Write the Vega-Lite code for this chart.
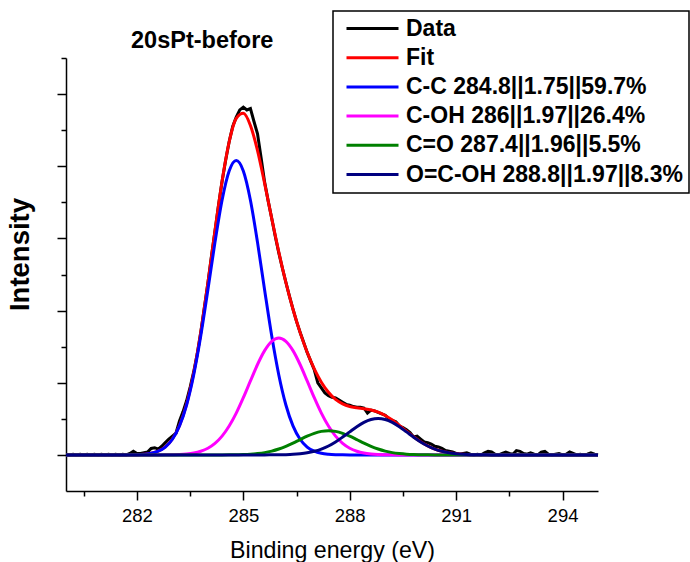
{
  "$schema": "https://vega.github.io/schema/vega-lite/v6.json",
  "width": 532,
  "height": 433,
  "autosize": {"type": "none"},
  "padding": {"left": 66, "top": 58, "right": 92, "bottom": 71},
  "background": "white",
  "config": {
    "view": {"stroke": null},
    "font": "Liberation Sans",
    "axis": {"grid": false, "domainColor": "black", "tickColor": "black", "domainWidth": 1.5, "tickWidth": 1.5, "labelColor": "black", "titleColor": "black", "labelFont": "Liberation Sans", "titleFont": "Liberation Sans"},
    "legend": {"strokeColor": "black", "strokeWidth": 1.5, "title": null}
  },
  "title": {"text": "20sPt-before", "font": "Liberation Sans", "fontSize": 23.5, "fontWeight": "bold", "color": "black", "anchor": "start", "frame": "group", "dx": 65, "dy": 50.5, "offset": 8},
  "datasets": {
    "raw": [
      {"x":280.0,"y":0.01},{"x":280.1,"y":0.00},{"x":280.2,"y":0.01},{"x":280.3,"y":0.00},{"x":280.4,"y":0.01},{"x":280.5,"y":0.00},{"x":280.6,"y":0.01},{"x":280.7,"y":0.00},{"x":280.8,"y":0.01},{"x":280.9,"y":0.00},
      {"x":281.0,"y":0.01},{"x":281.1,"y":0.00},{"x":281.2,"y":0.01},{"x":281.3,"y":0.00},{"x":281.4,"y":0.01},{"x":281.5,"y":0.00},{"x":281.6,"y":0.01},{"x":281.7,"y":0.00},{"x":281.8,"y":0.02},{"x":281.9,"y":0.05},
      {"x":282.0,"y":0.02},{"x":282.1,"y":0.02},{"x":282.2,"y":0.03},{"x":282.3,"y":0.04},{"x":282.4,"y":0.09},{"x":282.5,"y":0.10},{"x":282.6,"y":0.08},{"x":282.7,"y":0.12},{"x":282.8,"y":0.17},{"x":282.9,"y":0.22},
      {"x":283.0,"y":0.26},{"x":283.1,"y":0.30},{"x":283.2,"y":0.47},{"x":283.3,"y":0.60},{"x":283.4,"y":0.75},{"x":283.5,"y":0.94},{"x":283.6,"y":1.15},{"x":283.7,"y":1.40},{"x":283.8,"y":1.70},{"x":283.9,"y":2.04},
      {"x":284.0,"y":2.38},{"x":284.1,"y":2.75},{"x":284.2,"y":3.10},{"x":284.3,"y":3.46},{"x":284.4,"y":3.79},{"x":284.5,"y":4.08},{"x":284.6,"y":4.34},{"x":284.7,"y":4.55},{"x":284.8,"y":4.68},{"x":284.9,"y":4.78},
      {"x":285.0,"y":4.82},{"x":285.1,"y":4.78},{"x":285.2,"y":4.80},{"x":285.3,"y":4.62},{"x":285.4,"y":4.45},{"x":285.5,"y":4.12},{"x":285.6,"y":3.78},{"x":285.7,"y":3.52},{"x":285.8,"y":3.28},{"x":285.9,"y":3.03},
      {"x":286.0,"y":2.80},{"x":286.1,"y":2.59},{"x":286.2,"y":2.39},{"x":286.3,"y":2.20},{"x":286.4,"y":2.02},{"x":286.5,"y":1.85},{"x":286.6,"y":1.70},{"x":286.7,"y":1.56},{"x":286.8,"y":1.42},{"x":286.9,"y":1.30},
      {"x":287.0,"y":1.18},{"x":287.1,"y":1.00},{"x":287.2,"y":0.93},{"x":287.3,"y":0.86},{"x":287.4,"y":0.82},{"x":287.5,"y":0.80},{"x":287.6,"y":0.79},{"x":287.7,"y":0.76},{"x":287.8,"y":0.73},{"x":287.9,"y":0.70},
      {"x":288.0,"y":0.69},{"x":288.1,"y":0.67},{"x":288.2,"y":0.66},{"x":288.3,"y":0.66},{"x":288.4,"y":0.65},{"x":288.5,"y":0.58},{"x":288.6,"y":0.62},{"x":288.7,"y":0.61},{"x":288.8,"y":0.59},{"x":288.9,"y":0.57},
      {"x":289.0,"y":0.55},{"x":289.1,"y":0.50},{"x":289.2,"y":0.48},{"x":289.3,"y":0.46},{"x":289.4,"y":0.40},{"x":289.5,"y":0.38},{"x":289.6,"y":0.35},{"x":289.7,"y":0.31},{"x":289.8,"y":0.25},{"x":289.9,"y":0.26},
      {"x":290.0,"y":0.22},{"x":290.1,"y":0.18},{"x":290.2,"y":0.17},{"x":290.3,"y":0.15},{"x":290.4,"y":0.12},{"x":290.5,"y":0.11},{"x":290.6,"y":0.09},{"x":290.7,"y":0.06},{"x":290.8,"y":0.05},{"x":290.9,"y":0.04},
      {"x":291.0,"y":0.02},{"x":291.1,"y":0.01},{"x":291.2,"y":0.02},{"x":291.3,"y":0.03},{"x":291.4,"y":0.01},{"x":291.5,"y":0.00},{"x":291.6,"y":0.01},{"x":291.7,"y":0.00},{"x":291.8,"y":0.03},{"x":291.9,"y":0.05},
      {"x":292.0,"y":0.04},{"x":292.1,"y":0.01},{"x":292.2,"y":0.00},{"x":292.3,"y":0.02},{"x":292.4,"y":0.04},{"x":292.5,"y":0.02},{"x":292.6,"y":0.01},{"x":292.7,"y":0.06},{"x":292.8,"y":0.05},{"x":292.9,"y":0.02},
      {"x":293.0,"y":0.01},{"x":293.1,"y":0.03},{"x":293.2,"y":0.01},{"x":293.3,"y":0.00},{"x":293.4,"y":0.04},{"x":293.5,"y":0.05},{"x":293.6,"y":0.01},{"x":293.7,"y":0.00},{"x":293.8,"y":0.01},{"x":293.9,"y":0.02},
      {"x":294.0,"y":0.00},{"x":294.1,"y":0.01},{"x":294.2,"y":0.04},{"x":294.3,"y":0.02},{"x":294.4,"y":0.00},{"x":294.5,"y":0.01},{"x":294.6,"y":0.00},{"x":294.7,"y":0.01},{"x":294.8,"y":0.03},{"x":294.9,"y":0.01},
      {"x":295.0,"y":0.00}
    ],
    "comp": [
      {"x":280.0,"Fit":0,"cc":0,"coh":0,"co":0,"ocoh":0},
      {"x":281.6,"Fit":0,"cc":0,"coh":0,"co":0,"ocoh":0},
      {"x":281.8,"Fit":0.001,"cc":0.001,"coh":0,"co":0,"ocoh":0},
      {"x":282.0,"Fit":0.003,"cc":0.003,"coh":0,"co":0,"ocoh":0},
      {"x":282.2,"Fit":0.009,"cc":0.009,"coh":0,"co":0,"ocoh":0},
      {"x":282.4,"Fit":0.022,"cc":0.022,"coh":0,"co":0,"ocoh":0},
      {"x":282.6,"Fit":0.051,"cc":0.051,"coh":0,"co":0,"ocoh":0},
      {"x":282.8,"Fit":0.110,"cc":0.109,"coh":0.001,"co":0,"ocoh":0},
      {"x":283.0,"Fit":0.220,"cc":0.217,"coh":0.003,"co":0,"ocoh":0},
      {"x":283.2,"Fit":0.408,"cc":0.402,"coh":0.006,"co":0,"ocoh":0},
      {"x":283.4,"Fit":0.705,"cc":0.692,"coh":0.013,"co":0,"ocoh":0},
      {"x":283.6,"Fit":1.134,"cc":1.108,"coh":0.026,"co":0,"ocoh":0},
      {"x":283.8,"Fit":1.701,"cc":1.650,"coh":0.051,"co":0,"ocoh":0},
      {"x":284.0,"Fit":2.379,"cc":2.286,"coh":0.093,"co":0,"ocoh":0},
      {"x":284.2,"Fit":3.105,"cc":2.945,"coh":0.160,"co":0,"ocoh":0},
      {"x":284.4,"Fit":3.790,"cc":3.530,"coh":0.260,"co":0,"ocoh":0},
      {"x":284.6,"Fit":4.336,"cc":3.935,"coh":0.400,"co":0.001,"ocoh":0},
      {"x":284.8,"Fit":4.662,"cc":4.080,"coh":0.579,"co":0.003,"ocoh":0},
      {"x":285.0,"Fit":4.733,"cc":3.935,"coh":0.793,"co":0.005,"ocoh":0},
      {"x":285.2,"Fit":4.565,"cc":3.530,"coh":1.025,"co":0.010,"ocoh":0},
      {"x":285.4,"Fit":4.217,"cc":2.945,"coh":1.253,"co":0.019,"ocoh":0},
      {"x":285.6,"Fit":3.763,"cc":2.286,"coh":1.445,"co":0.032,"ocoh":0},
      {"x":285.8,"Fit":3.278,"cc":1.650,"coh":1.574,"co":0.053,"ocoh":0.001},
      {"x":286.0,"Fit":2.812,"cc":1.108,"coh":1.620,"co":0.082,"ocoh":0.002},
      {"x":286.2,"Fit":2.389,"cc":0.692,"coh":1.574,"co":0.119,"ocoh":0.004},
      {"x":286.4,"Fit":2.018,"cc":0.402,"coh":1.445,"co":0.163,"ocoh":0.008},
      {"x":286.6,"Fit":1.698,"cc":0.217,"coh":1.253,"co":0.212,"ocoh":0.016},
      {"x":286.8,"Fit":1.422,"cc":0.109,"coh":1.025,"co":0.259,"ocoh":0.029},
      {"x":287.0,"Fit":1.193,"cc":0.051,"coh":0.793,"co":0.299,"ocoh":0.050},
      {"x":287.2,"Fit":1.008,"cc":0.022,"coh":0.579,"co":0.326,"ocoh":0.081},
      {"x":287.4,"Fit":0.869,"cc":0.009,"coh":0.400,"co":0.336,"ocoh":0.124},
      {"x":287.6,"Fit":0.769,"cc":0.003,"coh":0.260,"co":0.326,"ocoh":0.180},
      {"x":287.8,"Fit":0.707,"cc":0.001,"coh":0.160,"co":0.299,"ocoh":0.247},
      {"x":288.0,"Fit":0.671,"cc":0,"coh":0.093,"co":0.259,"ocoh":0.319},
      {"x":288.2,"Fit":0.653,"cc":0,"coh":0.051,"co":0.212,"ocoh":0.390},
      {"x":288.4,"Fit":0.639,"cc":0,"coh":0.026,"co":0.163,"ocoh":0.450},
      {"x":288.6,"Fit":0.622,"cc":0,"coh":0.013,"co":0.119,"ocoh":0.490},
      {"x":288.8,"Fit":0.592,"cc":0,"coh":0.006,"co":0.082,"ocoh":0.504},
      {"x":289.0,"Fit":0.546,"cc":0,"coh":0.003,"co":0.053,"ocoh":0.490},
      {"x":289.2,"Fit":0.483,"cc":0,"coh":0.001,"co":0.032,"ocoh":0.450},
      {"x":289.4,"Fit":0.409,"cc":0,"coh":0,"co":0.019,"ocoh":0.390},
      {"x":289.6,"Fit":0.329,"cc":0,"coh":0,"co":0.010,"ocoh":0.319},
      {"x":289.8,"Fit":0.252,"cc":0,"coh":0,"co":0.005,"ocoh":0.247},
      {"x":290.0,"Fit":0.183,"cc":0,"coh":0,"co":0.003,"ocoh":0.180},
      {"x":290.2,"Fit":0.125,"cc":0,"coh":0,"co":0.001,"ocoh":0.124},
      {"x":290.4,"Fit":0.081,"cc":0,"coh":0,"co":0,"ocoh":0.081},
      {"x":290.6,"Fit":0.050,"cc":0,"coh":0,"co":0,"ocoh":0.050},
      {"x":290.8,"Fit":0.029,"cc":0,"coh":0,"co":0,"ocoh":0.029},
      {"x":291.0,"Fit":0.016,"cc":0,"coh":0,"co":0,"ocoh":0.016},
      {"x":291.2,"Fit":0.008,"cc":0,"coh":0,"co":0,"ocoh":0.008},
      {"x":291.4,"Fit":0.004,"cc":0,"coh":0,"co":0,"ocoh":0.004},
      {"x":291.6,"Fit":0.002,"cc":0,"coh":0,"co":0,"ocoh":0.002},
      {"x":291.8,"Fit":0.001,"cc":0,"coh":0,"co":0,"ocoh":0.001},
      {"x":292.0,"Fit":0,"cc":0,"coh":0,"co":0,"ocoh":0},
      {"x":295.0,"Fit":0,"cc":0,"coh":0,"co":0,"ocoh":0}
    ]
  },
  "resolve": {"scale": {"x": "shared", "y": "shared", "color": "shared"}, "axis": {"x": "independent", "y": "independent"}},
  "layer": [
    {
      "data": {"name": "raw"},
      "mark": {"type": "line", "strokeWidth": 3, "interpolate": "linear"},
      "encoding": {
        "x": {"field": "x", "type": "quantitative", "scale": {"domain": [280, 295], "nice": false, "zero": false},
          "axis": {"orient": "bottom", "values": [282, 285, 288, 291, 294], "tickSize": 9, "labelFontSize": 18.5, "labelPadding": 6, "title": "Binding energy (eV)", "titleFontSize": 23.2, "titleFontWeight": "normal", "titlePadding": 15}},
        "y": {"field": "y", "type": "quantitative", "scale": {"domain": [-0.5, 5.5], "nice": false, "zero": false},
          "axis": {"orient": "left", "values": [0, 1, 2, 3, 4, 5], "tickSize": 9, "labels": false, "title": "Intensity", "titleFontSize": 27.5, "titleFontWeight": "bold", "titleX": -38, "titleY": 196, "titleAlign": "center", "titleBaseline": "alphabetic", "titleAngle": -90}},
        "color": {"datum": "Data", "type": "nominal", "title": null,
          "scale": {"domain": ["Data", "Fit", "cc", "coh", "co", "ocoh"], "range": ["#000000", "#ff0000", "#0000ff", "#ff00ff", "#008000", "#000080"]},
          "legend": {"orient": "none", "legendX": 267, "legendY": -47, "title": null, "symbolType": "M-2.6,0H2.6", "symbolSize": 400, "symbolStrokeWidth": 3, "symbolOffset": 22, "labelOffset": 22, "labelFontSize": 23, "labelFontWeight": "bold", "labelFont": "Liberation Sans", "labelColor": "black", "labelLimit": 500, "padding": 6, "rowPadding": 5.2, "strokeColor": "black",
            "labelExpr": "datum.label == 'cc' ? 'C-C 284.8||1.75||59.7%' : datum.label == 'coh' ? 'C-OH 286||1.97||26.4%' : datum.label == 'co' ? 'C=O 287.4||1.96||5.5%' : datum.label == 'ocoh' ? 'O=C-OH 288.8||1.97||8.3%' : datum.label"}}
      }
    },
    {
      "data": {"name": "comp"},
      "transform": [{"fold": ["Fit", "cc", "coh", "co", "ocoh"], "as": ["series", "val"]}],
      "mark": {"type": "line", "strokeWidth": 3, "interpolate": "monotone"},
      "encoding": {
        "x": {"field": "x", "type": "quantitative",
          "axis": {"orient": "bottom", "values": [280.5, 283.5, 286.5, 289.5, 292.5], "tickSize": 5, "labels": false, "domain": false, "title": null}},
        "y": {"field": "val", "type": "quantitative",
          "axis": {"orient": "left", "values": [0.5, 1.5, 2.5, 3.5, 4.5, 5.5], "tickSize": 5, "labels": false, "domain": false, "title": null}},
        "color": {"field": "series", "type": "nominal", "title": null,
          "legend": {"orient": "none", "legendX": 267, "legendY": -47, "title": null, "symbolType": "M-2.6,0H2.6", "symbolSize": 400, "symbolStrokeWidth": 3, "symbolOffset": 22, "labelOffset": 22, "labelFontSize": 23, "labelFontWeight": "bold", "labelFont": "Liberation Sans", "labelColor": "black", "labelLimit": 500, "padding": 6, "rowPadding": 5.2, "strokeColor": "black",
            "labelExpr": "datum.label == 'cc' ? 'C-C 284.8||1.75||59.7%' : datum.label == 'coh' ? 'C-OH 286||1.97||26.4%' : datum.label == 'co' ? 'C=O 287.4||1.96||5.5%' : datum.label == 'ocoh' ? 'O=C-OH 288.8||1.97||8.3%' : datum.label"}}
      }
    }
  ]
}
